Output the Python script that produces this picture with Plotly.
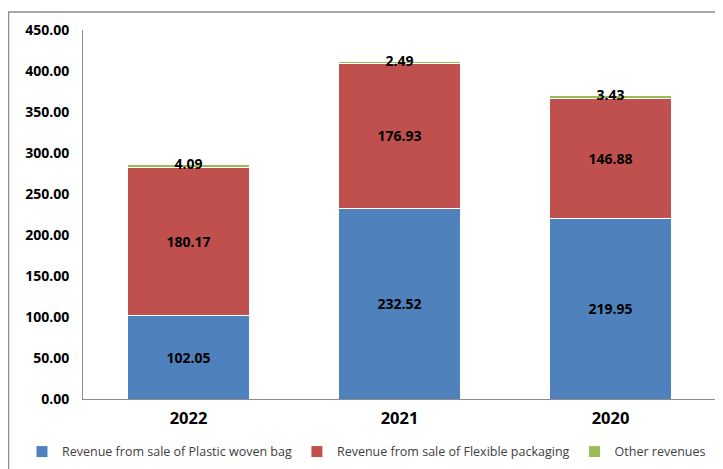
import plotly.graph_objects as go

years = ["2022", "2021", "2020"]
plastic_woven_bag = [102.05, 232.52, 219.95]
flexible_packaging = [180.17, 176.93, 146.88]
other_revenues = [4.09, 2.49, 3.43]
y_ticks = [0, 50, 100, 150, 200, 250, 300, 350, 400, 450]

series = [
    ("Revenue from sale of Plastic woven bag", plastic_woven_bag, "#4F81BD"),
    ("Revenue from sale of Flexible packaging", flexible_packaging, "#C0504D"),
    ("Other revenues", other_revenues, "#9BBB59"),
]

FONT = "Open Sans"
fig = go.Figure()
for name, vals, col in series:
    is_top = name == "Other revenues"
    fig.add_trace(go.Bar(
        x=years, y=vals, name=name,
        marker=dict(color=col, line=dict(color="white", width=1)),
        text=None if is_top else [f"<b>{v:.2f}</b>" for v in vals],
        textposition="inside",
        insidetextanchor="middle",
        textangle=0,
        textfont=dict(family=FONT, size=14, color="black"),
        hoverinfo="skip",
    ))

# labels for the thin top segment, centred on it
base = [a + b for a, b in zip(plastic_woven_bag, flexible_packaging)]
fig.add_trace(go.Scatter(
    x=years, y=[b + v / 2 for b, v in zip(base, other_revenues)],
    mode="text", text=[f"<b>{v:.2f}</b>" for v in other_revenues],
    textposition="middle center",
    textfont=dict(family=FONT, size=14, color="black"),
    showlegend=False, hoverinfo="skip",
))

fig.update_layout(
    barmode="stack",
    bargap=0.425,
    width=723, height=469,
    margin=dict(l=75, r=15, t=22, b=78, autoexpand=False),
    paper_bgcolor="white", plot_bgcolor="white",
    showlegend=True,
    legend=dict(orientation="h", x=-0.0964, xanchor="left", y=-0.1436, yanchor="middle",
                font=dict(family=FONT, size=12.5, color="#404040"),
                traceorder="normal"),
    shapes=[dict(type="rect", xref="paper", yref="paper",
                 x0=-0.1177, x1=1.3, y0=-0.4, y1=1.0488,
                 line=dict(color="#8c8c8c", width=1.5), fillcolor="rgba(0,0,0,0)",
                 layer="below")],
)
fig.update_xaxes(type="category", automargin=False, showline=True, linecolor="#8c8c8c",
                 linewidth=1, showgrid=False,
                 tickvals=years, ticktext=[f"<b>{y}</b>" for y in years],
                 tickfont=dict(family=FONT, size=16.5, color="black"),
                 ticks="outside", ticklen=4, tickcolor="rgba(0,0,0,0)")
fig.update_yaxes(range=[0, 450], automargin=False, tickvals=y_ticks,
                 ticktext=[f"<b>{v:.2f}</b>" for v in y_ticks],
                 showline=True, linecolor="#8c8c8c", linewidth=1, showgrid=False,
                 zeroline=False, ticks="outside", ticklen=10, tickcolor="rgba(0,0,0,0)",
                 tickfont=dict(family=FONT, size=14, color="black"))

fig.write_html("out.html")
